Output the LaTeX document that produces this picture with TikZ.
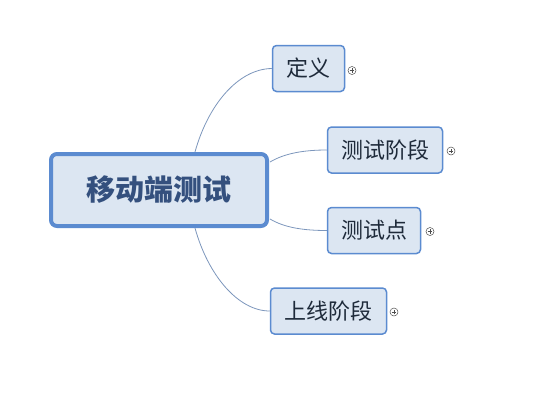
\documentclass[tikz,border=0pt]{standalone}
\usepackage{fontspec}
\newfontfamily\cjk{Noto Sans CJK SC}
\definecolor{bfill}{HTML}{DCE6F2}
\definecolor{bdraw}{HTML}{5B8BD0}
\definecolor{ltext}{HTML}{1E2A3A}
\definecolor{mtext}{HTML}{34507E}
\definecolor{lline}{HTML}{7C96BC}
\begin{document}
\begin{tikzpicture}[x=1pt,y=-1pt,
  mainbox/.style={draw=bdraw,fill=bfill,line width=4pt,rounded corners=6pt,minimum width=216pt,minimum height=72pt,inner sep=0pt,font=\cjk\bfseries\fontsize{29}{33}\selectfont,text=mtext},
  childbox/.style={draw=bdraw,fill=bfill,line width=1.5pt,rounded corners=4pt,minimum height=46pt,inner sep=0pt,font=\cjk\fontsize{22}{25}\selectfont,text=ltext},
  conn/.style={draw=lline,line width=0.8pt},
  plus/.style={circle,draw=black!70,line width=0.5pt,minimum size=8pt,inner sep=0pt,
    path picture={\draw[black!70,line width=0.5pt] ([xshift=-2.3pt]path picture bounding box.center) -- ([xshift=2.3pt]path picture bounding box.center) ([yshift=-2.3pt]path picture bounding box.center) -- ([yshift=2.3pt]path picture bounding box.center);}}]
\useasboundingbox (0,0) rectangle (547,400);
\node[mainbox] (m) at (159,190) {移动端测试};
\node[childbox,minimum width=72pt] (a) at (308.5,68.5) {定义};
\node[childbox,minimum width=115pt] (b) at (385,150) {测试阶段};
\node[childbox,minimum width=93pt] (c) at (374,230.5) {测试点};
\node[childbox,minimum width=116pt] (d) at (328.5,311) {上线阶段};
\node[plus] (pa) at (352,70.5) {};
\node[plus] (pb) at (451,151) {};
\node[plus] (pc) at (430,231.5) {};
\node[plus] (pd) at (394,312) {};
\coordinate (ma) at (195,152);
\coordinate (md) at (195,228);
\coordinate (mb) at (270,162);
\coordinate (mc) at (270,219);
\draw[conn] (ma) .. controls (208,105) and (238,69) .. (a.west);
\draw[conn] (mb) .. controls (285,153) and (305,150) .. (b.west);
\draw[conn] (mc) .. controls (285,228) and (305,230.5) .. (c.west);
\draw[conn] (md) .. controls (208,275) and (238,311) .. (d.west);
\end{tikzpicture}
\end{document}
